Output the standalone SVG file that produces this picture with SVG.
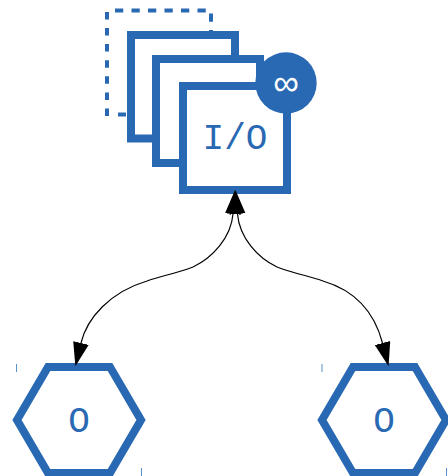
<svg xmlns="http://www.w3.org/2000/svg" width="448" height="476" viewBox="0 0 448 476">
<style>
.b{fill:#fff;stroke:#2969b3;stroke-width:8}
.d{fill:none;stroke:#2969b3;stroke-width:4;stroke-dasharray:8.25 8.25}
.t{fill:#2969b3;font-family:"Liberation Mono",monospace;font-size:36px;text-anchor:middle}
.k{stroke:#5b8fcb;stroke-width:1;fill:none}
.c{fill:none;stroke:#000;stroke-width:1.2;marker-start:url(#a);marker-end:url(#a)}
</style>
<defs>
<marker id="a" markerUnits="userSpaceOnUse" markerWidth="26" markerHeight="18" refX="0" refY="8" orient="auto-start-reverse"><path d="M0 0L24 8L0 16Z" fill="#000"/></marker>
</defs>
<g id="io">
<path class="d" d="M115 10.5H211V32"/>
<path class="d" style="stroke-dasharray:7.5 8.6" d="M107 116V9"/>
<path class="d" d="M126 114.5H118"/>
<rect class="b" x="131" y="35" width="104" height="103.500"/>
<rect class="b" x="156" y="59" width="104" height="104"/>
<rect class="b" x="183" y="86" width="104" height="104"/>
<text class="t" x="235" y="149">I/O</text>
<circle cx="286" cy="83" r="30.700" fill="#2969b3"/>
<text x="286" y="95" fill="#fff" font-family="Liberation Sans,sans-serif" font-size="36" text-anchor="middle">∞</text>
</g>
<g id="o1">
<path class="k" d="M16.500 364V372M141.500 468V476"/>
<path class="b" d="M48 367H110L141 420L110 473H48L17 420Z"/>
<text class="t" x="79" y="432">O</text>
</g>
<g id="o2">
<path class="k" d="M322 364V372M446.500 468V476"/>
<path class="b" d="M353 367H415L446 420L415 473H353L322 420Z"/>
<text class="t" x="384" y="432">O</text>
</g>
<g id="connectors">
<path class="c" d="M233 214C231 238 212 258 193 267C175 274 160 276 147 281C110 292 87 318 81 343"/>
<path class="c" d="M237.500 214C239.500 238 258 258 277 267C295 274 310 276 323 281C360 292 376 318 382.500 343"/>
</g>
</svg>
